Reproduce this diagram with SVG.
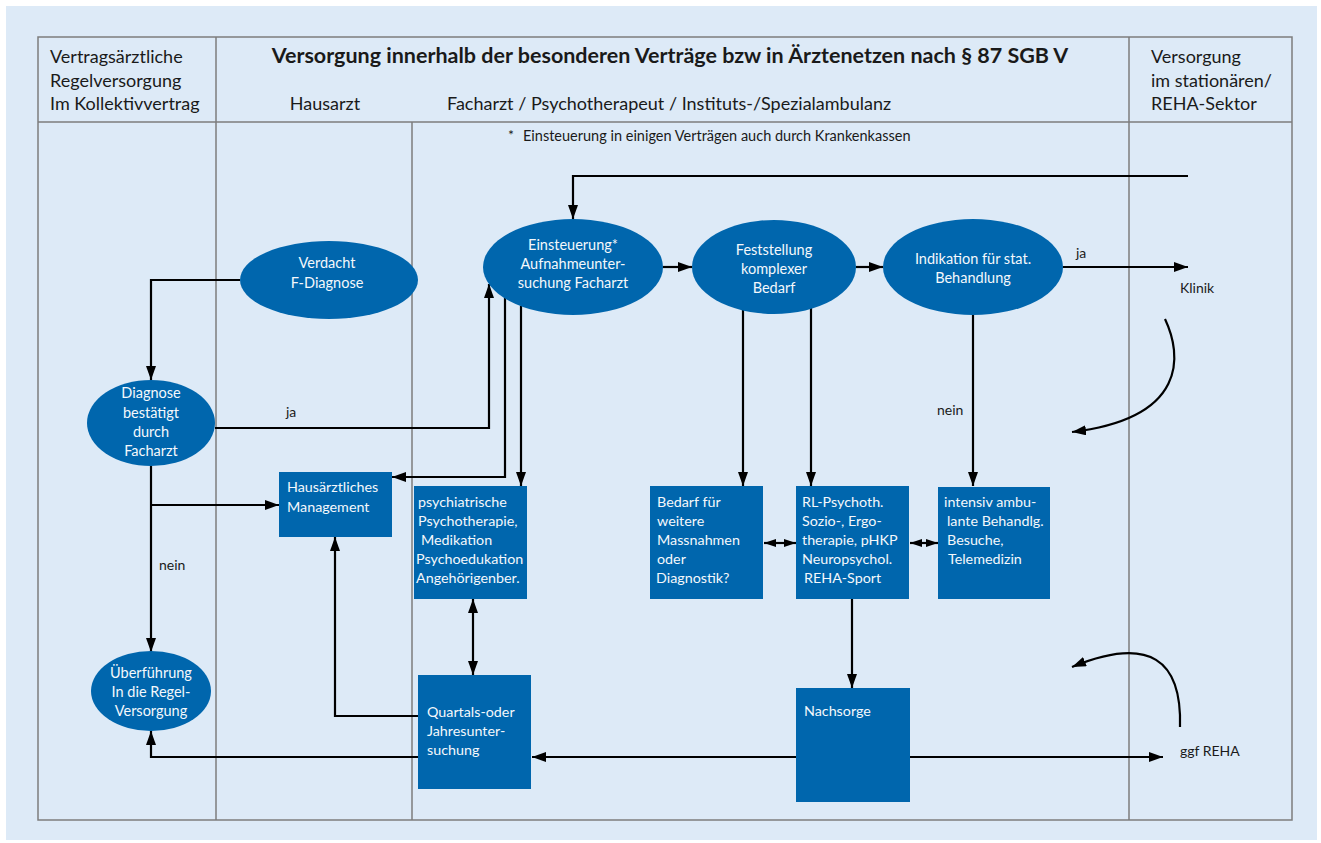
<svg xmlns="http://www.w3.org/2000/svg" width="1321" height="843" viewBox="0 0 1321 843">
<style>
.t{font-family:Lato,"Open Sans","Liberation Sans",sans-serif;font-size:18px;fill:#1a1a1a}
.tb{font-family:Lato,"Open Sans","Liberation Sans",sans-serif;font-size:21.5px;font-weight:bold;fill:#1a1a1a}
.s{font-family:Lato,"Open Sans","Liberation Sans",sans-serif;font-size:14.5px;fill:#1a1a1a}
.l{font-family:Lato,"Open Sans","Liberation Sans",sans-serif;font-size:14px;fill:#1a1a1a}
.w{font-family:Lato,"Open Sans","Liberation Sans",sans-serif;font-size:14.3px;fill:#f4f8fc}
.wc{font-family:Lato,"Open Sans","Liberation Sans",sans-serif;font-size:14.5px;fill:#f4f8fc;text-anchor:middle}
.n{fill:#0066ad}
.g{stroke:#7d7d7d;stroke-width:1.5;fill:none}
.c{stroke:#000;stroke-width:2.2;fill:none}
</style>
<defs>
<marker id="ah" viewBox="0 0 14 10" refX="14" refY="5" markerWidth="14" markerHeight="10" orient="auto-start-reverse" markerUnits="userSpaceOnUse"><path d="M0,0 L14,5 L0,10 z" fill="#000"/></marker>
<marker id="as" viewBox="0 0 12 8" refX="12" refY="4" markerWidth="12" markerHeight="8" orient="auto-start-reverse" markerUnits="userSpaceOnUse"><path d="M0,0 L12,4 L0,8 z" fill="#000"/></marker>
</defs>
<rect x="0" y="0" width="1321" height="843" fill="#fff"/>
<rect x="6" y="6" width="1311" height="834" fill="#ddeaf7"/>
<g id="frame">
<rect class="g" x="38" y="37" width="1254" height="783"/>
<line class="g" x1="216" y1="37" x2="216" y2="820"/>
<line class="g" x1="412" y1="122" x2="412" y2="820"/>
<line class="g" x1="1129" y1="37" x2="1129" y2="820"/>
<line class="g" x1="38" y1="122" x2="1292" y2="122"/>
</g>
<g id="header">
<text class="t" x="50" y="63">Vertragsärztliche</text>
<text class="t" x="50" y="87">Regelversorgung</text>
<text class="t" x="50" y="110">Im Kollektivvertrag</text>
<text class="tb" x="670" y="63" text-anchor="middle">Versorgung innerhalb der besonderen Verträge bzw in Ärztenetzen nach § 87 SGB V</text>
<text class="t" x="325" y="110" text-anchor="middle">Hausarzt</text>
<text class="t" x="447" y="110">Facharzt / Psychotherapeut / Instituts-/Spezialambulanz</text>
<text class="t" x="1151" y="63">Versorgung</text>
<text class="t" x="1151" y="87">im stationären/</text>
<text class="t" x="1151" y="110">REHA-Sektor</text>
<text class="l" x="508" y="140">*</text>
<text class="s" x="523" y="141">Einsteuerung in einigen Verträgen auch durch Krankenkassen</text>
</g>
<g id="connectors">
<polyline class="c" points="1188,176 573,176 573,219" marker-end="url(#ah)"/>
<line class="c" x1="663" y1="267" x2="692" y2="267" marker-end="url(#ah)"/>
<line class="c" x1="856" y1="267" x2="883" y2="267" marker-end="url(#ah)"/>
<line class="c" x1="1063" y1="267" x2="1188" y2="267" marker-end="url(#ah)"/>
<path class="c" d="M1165,319 C1182,355 1188,418 1072,432" marker-end="url(#ah)"/>
<line class="c" x1="973" y1="314" x2="973" y2="486" marker-end="url(#ah)"/>
<line class="c" x1="743" y1="305" x2="743" y2="486" marker-end="url(#ah)"/>
<line class="c" x1="811" y1="308" x2="811" y2="486" marker-end="url(#ah)"/>
<polyline class="c" points="240,280 151,280 151,380" marker-end="url(#ah)"/>
<polyline class="c" points="215,428 489,428 489,284" marker-end="url(#ah)"/>
<line class="c" x1="151" y1="466" x2="151" y2="652" marker-end="url(#ah)"/>
<polyline class="c" points="151,505 279,505" marker-end="url(#ah)"/>
<polyline class="c" points="505,298 505,477 392,477" marker-end="url(#ah)"/>
<line class="c" x1="521" y1="306" x2="521" y2="486" marker-end="url(#ah)"/>
<line class="c" x1="473" y1="599" x2="473" y2="675" marker-start="url(#ah)" marker-end="url(#ah)"/>
<polyline class="c" points="418,716 335,716 335,537" marker-end="url(#ah)"/>
<polyline class="c" points="418,757 151,757 151,731" marker-end="url(#ah)"/>
<line class="c" x1="532" y1="757" x2="1163" y2="757" marker-start="url(#ah)" marker-end="url(#ah)"/>
<line class="c" x1="852" y1="599" x2="852" y2="688" marker-end="url(#ah)"/>
<line class="c" x1="764" y1="543" x2="796" y2="543" marker-start="url(#as)" marker-end="url(#as)"/>
<line class="c" x1="910" y1="543" x2="938" y2="543" marker-start="url(#as)" marker-end="url(#as)"/>
<path class="c" d="M1180,727 C1182,660 1150,635 1072,667" marker-end="url(#ah)"/>
<text class="l" x="1076" y="258">ja</text>
<text class="l" x="1180" y="293">Klinik</text>
<text class="l" x="937" y="415">nein</text>
<text class="l" x="286" y="417">ja</text>
<text class="l" x="159" y="570">nein</text>
<text class="l" x="1180" y="756">ggf REHA</text>
</g>
<g id="einsteuerung">
<ellipse class="n" cx="573" cy="267" rx="90" ry="48"/>
<text class="wc" x="573" y="250">Einsteuerung*</text>
<text class="wc" x="573" y="269">Aufnahmeunter-</text>
<text class="wc" x="573" y="288">suchung Facharzt</text>
</g>
<g id="feststellung">
<ellipse class="n" cx="774" cy="267" rx="82" ry="47"/>
<text class="wc" x="774" y="255">Feststellung</text>
<text class="wc" x="774" y="274">komplexer</text>
<text class="wc" x="774" y="293">Bedarf</text>
</g>
<g id="indikation">
<ellipse class="n" cx="973" cy="267" rx="90" ry="48"/>
<text class="wc" x="973" y="264">Indikation für stat.</text>
<text class="wc" x="973" y="283">Behandlung</text>
</g>
<g id="verdacht">
<ellipse class="n" cx="329" cy="280" rx="89" ry="39"/>
<text class="wc" x="327" y="268">Verdacht</text>
<text class="wc" x="327" y="288">F-Diagnose</text>
</g>
<g id="diagnose">
<ellipse class="n" cx="151" cy="423" rx="64" ry="43"/>
<text class="wc" x="151" y="398">Diagnose</text>
<text class="wc" x="151" y="418">bestätigt</text>
<text class="wc" x="151" y="437">durch</text>
<text class="wc" x="151" y="456">Facharzt</text>
</g>
<g id="ueberfuehrung">
<ellipse class="n" cx="151" cy="691" rx="60" ry="40"/>
<text class="wc" x="151" y="678">Überführung</text>
<text class="wc" x="151" y="697">In die Regel-</text>
<text class="wc" x="151" y="716">Versorgung</text>
</g>
<g id="hausaerztliches-management">
<rect class="n" x="279" y="472" width="113" height="65"/>
<text class="w" x="287" y="492">Hausärztliches</text>
<text class="w" x="287" y="512">Management</text>
</g>
<g id="psychiatrische">
<rect class="n" x="414" y="486" width="113" height="113"/>
<text class="w" x="418" y="507">psychiatrische</text>
<text class="w" x="418" y="526">Psychotherapie,</text>
<text class="w" x="421" y="545">Medikation</text>
<text class="w" x="416" y="564">Psychoedukation</text>
<text class="w" x="416" y="583">Angehörigenber.</text>
</g>
<g id="bedarf">
<rect class="n" x="650" y="486" width="113" height="113"/>
<text class="w" x="657" y="507">Bedarf für</text>
<text class="w" x="657" y="526">weitere</text>
<text class="w" x="657" y="545">Massnahmen</text>
<text class="w" x="657" y="564">oder</text>
<text class="w" x="656" y="583">Diagnostik?</text>
</g>
<g id="rl-psychoth">
<rect class="n" x="796" y="486" width="113" height="113"/>
<text class="w" x="802" y="507">RL-Psychoth.</text>
<text class="w" x="802" y="526">Sozio-, Ergo-</text>
<text class="w" x="802" y="545">therapie, pHKP</text>
<text class="w" x="802" y="564">Neuropsychol.</text>
<text class="w" x="804" y="583">REHA-Sport</text>
</g>
<g id="intensiv">
<rect class="n" x="938" y="487" width="112" height="112"/>
<text class="w" x="944" y="507">intensiv ambu-</text>
<text class="w" x="947" y="526">lante Behandlg.</text>
<text class="w" x="947" y="545">Besuche,</text>
<text class="w" x="948" y="564">Telemedizin</text>
</g>
<g id="quartals">
<rect class="n" x="418" y="675" width="113" height="114"/>
<text class="w" x="427" y="717">Quartals-oder</text>
<text class="w" x="427" y="736">Jahresunter-</text>
<text class="w" x="427" y="755">suchung</text>
</g>
<g id="nachsorge">
<rect class="n" x="796" y="688" width="114" height="114"/>
<text class="w" x="804" y="716">Nachsorge</text>
</g>
</svg>
